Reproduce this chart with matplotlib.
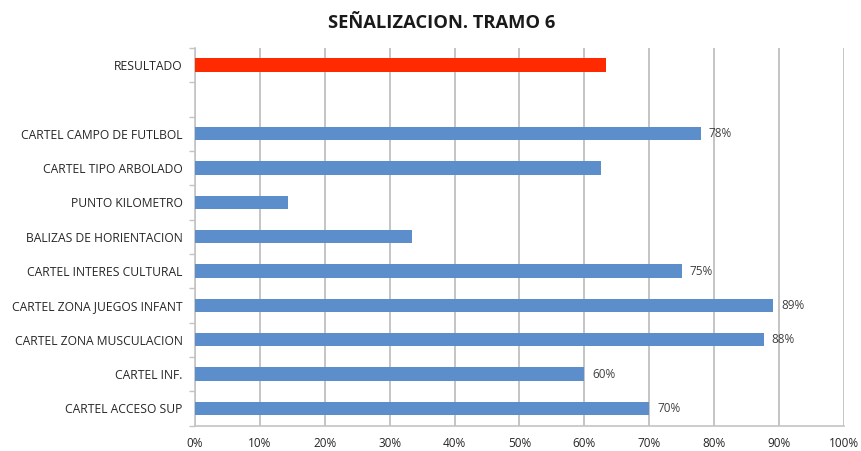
import matplotlib.pyplot as plt
from matplotlib.ticker import FixedLocator, PercentFormatter

plt.rcParams['font.family'] = ['Open Sans', 'DejaVu Sans']

# categories listed bottom to top, "" leaves the gap under RESULTADO
categories = [
    "CARTEL ACCESO SUP",
    "CARTEL INF.",
    "CARTEL ZONA MUSCULACION",
    "CARTEL ZONA JUEGOS INFANT",
    "CARTEL INTERES CULTURAL",
    "BALIZAS DE HORIENTACION",
    "PUNTO KILOMETRO",
    "CARTEL TIPO ARBOLADO",
    "CARTEL CAMPO DE FUTLBOL",
    "",
    "RESULTADO",
]
values = [0.70, 0.60, 0.876, 0.891, 0.75, 0.334, 0.143, 0.625, 0.779, None, 0.633]
show_label = [True, True, True, True, True, False, False, False, True, False, False]

blue = "#5B8ECB"
red = "#FF2A00"
grey = "#C4C4C4"

fig = plt.figure(figsize=(8.62, 4.51), dpi=100)
ax = fig.add_axes([0.2262, 0.0565, 0.7529, 0.8371])

for i, (v, lab) in enumerate(zip(values, show_label)):
    if v is None:
        continue
    color = red if categories[i] == "RESULTADO" else blue
    ax.barh(i, v, height=0.39, color=color, zorder=3)
    if lab:
        ax.text(v + 0.012, i, f"{v:.0%}", va="center", ha="left",
                fontsize=8.5, color="#404040", zorder=4)

ax.set_xlim(0, 1)
ax.set_ylim(-0.5, len(categories) - 0.5)
ax.xaxis.set_major_locator(FixedLocator([i / 10 for i in range(11)]))
ax.xaxis.set_major_formatter(PercentFormatter(1.0, decimals=0))
ax.grid(axis="x", color=grey, linewidth=1.4, zorder=0)

ax.set_yticks(range(len(categories)))
ax.set_yticklabels(categories)
ax.yaxis.set_minor_locator(FixedLocator([i - 0.5 for i in range(len(categories) + 1)]))

ax.tick_params(axis="y", which="major", length=0, pad=9, labelsize=8.7, labelcolor="#262626")
ax.tick_params(axis="y", which="minor", length=4, color=grey, width=1)
ax.tick_params(axis="x", length=0, pad=8, labelsize=8.5, labelcolor="#262626")

for side in ["top", "right"]:
    ax.spines[side].set_visible(False)
for side in ["left", "bottom"]:
    ax.spines[side].set_color(grey)
    ax.spines[side].set_linewidth(1.2)

fig.text(0.512, 0.949, "SEÑALIZACION. TRAMO 6", ha="center", va="center",
         fontsize=13.2, fontweight="bold", color="#1a1a1a")

fig.savefig("out.png", dpi=100)
